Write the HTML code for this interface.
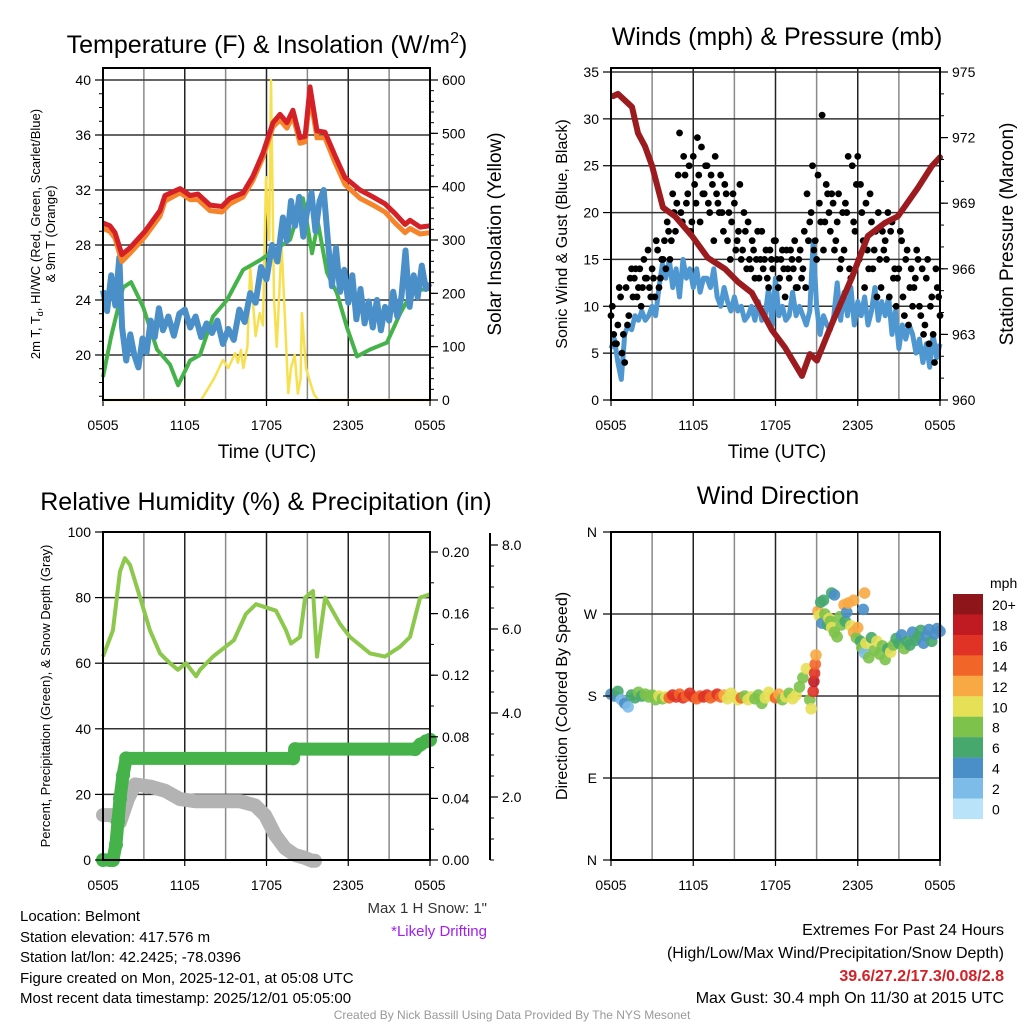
<!DOCTYPE html>
<html><head><meta charset="utf-8"><style>
body{margin:0;background:#fff}
svg{display:block;font-family:"Liberation Sans",sans-serif}
</style></head><body>
<svg id="s" width="1024" height="1024" viewBox="0 0 1024 1024" xmlns="http://www.w3.org/2000/svg">
<g id="g1"></g>
<g id="g2"></g>
<g id="g3"></g>
<g id="g4"></g>
<g id="gt">
<text x="267" y="53" font-size="25" text-anchor="middle">Temperature (F) &amp; Insolation (W/m<tspan dy="-10" font-size="16">2</tspan><tspan dy="10">)</tspan></text>
<text x="777" y="45" font-size="25" text-anchor="middle">Winds (mph) &amp; Pressure (mb)</text>
<text x="266" y="510" font-size="25" text-anchor="middle">Relative Humidity (%) &amp; Precipitation (in)</text>
<text x="778" y="504" font-size="25" text-anchor="middle">Wind Direction</text>
<text x="267" y="458" font-size="19" text-anchor="middle">Time (UTC)</text>
<text x="777" y="458" font-size="19" text-anchor="middle">Time (UTC)</text>
<text transform="translate(40,234) rotate(-90)" font-size="13" text-anchor="middle">2m T, T<tspan font-size="9" dy="3">d</tspan><tspan dy="-3">, HI/WC (Red, Green, Scarlet/Blue)</tspan></text>
<text transform="translate(55,234) rotate(-90)" font-size="13" text-anchor="middle">&amp; 9m T (Orange)</text>
<text transform="translate(501,234) rotate(-90)" font-size="19" text-anchor="middle">Solar Insolation (Yellow)</text>
<text transform="translate(567,234) rotate(-90)" font-size="16" text-anchor="middle">Sonic Wind &amp; Gust (Blue, Black)</text>
<text transform="translate(1013,234) rotate(-90)" font-size="19" text-anchor="middle">Station Pressure (Maroon)</text>
<text transform="translate(50,696) rotate(-90)" font-size="13" text-anchor="middle">Percent, Precipitation (Green), &amp; Snow Depth (Gray)</text>
<text transform="translate(567,696) rotate(-90)" font-size="16" text-anchor="middle">Direction (Colored By Speed)</text>
<text x="487" y="913" font-size="15" text-anchor="end" fill="#333">Max 1 H Snow: 1"</text>
<text x="487" y="936" font-size="15" text-anchor="end" fill="#a020f0">*Likely Drifting</text>
<g font-size="15">
<text x="20" y="921">Location: Belmont</text>
<text x="20" y="942">Station elevation: 417.576 m</text>
<text x="20" y="962">Station lat/lon: 42.2425; -78.0396</text>
<text x="20" y="983">Figure created on Mon, 2025-12-01, at 05:08 UTC</text>
<text x="20" y="1003">Most recent data timestamp: 2025/12/01 05:05:00</text>
</g>
<g font-size="16" text-anchor="end">
<text x="1004" y="935">Extremes For Past 24 Hours</text>
<text x="1004" y="958">(High/Low/Max Wind/Precipitation/Snow Depth)</text>
<text x="1004" y="981" fill="#d42027" font-weight="bold">39.6/27.2/17.3/0.08/2.8</text>
<text x="1004" y="1003">Max Gust: 30.4 mph On 11/30 at 2015 UTC</text>
</g>
<text x="512" y="1019" font-size="12" fill="#999" text-anchor="middle">Created By Nick Bassill Using Data Provided By The NYS Mesonet</text>
</g>
</svg>
<script>
// ---------- data ----------
const xTickLabels = ["0505","1105","1705","2305","0505"];
const tempH = [0,0.51,0.88,1.39,1.98,3.08,4.18,4.55,5.65,6.39,6.97,7.85,8.73,9.32,10.28,11.0,11.74,12.48,12.99,13.5,13.94,14.46,14.83,15.19,15.71,16.29,17.03,17.76,18.86,19.82,20.7,21.43,22.17,22.53,23.27,24];
const tempRed = [29.6,29.4,28.9,27.3,27.8,29.0,30.5,31.6,32.1,31.6,31.7,30.9,30.8,31.4,31.8,33,34.7,36.9,37.5,36.9,37.8,35.8,35.9,39.5,36.3,36.2,34.5,32.9,32.0,31.5,31.0,30.3,29.5,29.8,29.3,29.4];
const tempOrange = [29.2,29.0,28.5,26.8,27.4,28.6,30.1,31.2,31.8,31.3,31.3,30.5,30.4,31.0,31.5,32.7,34.4,36.6,37.1,36.5,37.4,35.4,35.5,38.9,35.8,35.8,34.0,32.4,31.4,30.9,30.4,29.6,28.9,29.2,28.8,28.9];
const hiH = [0,0.3,0.6,0.9,1.2,1.4,1.7,2.0,2.3,2.6,2.9,3.2,3.5,3.8,4.1,4.4,4.8,5.2,5.6,6.0,6.4,6.8,7.2,7.6,8.0,8.4,8.8,9.2,9.6,10.0,10.4,10.8,11.2,11.6,12.0,12.4,12.8,13.2,13.5,13.8,14.1,14.4,14.7,15.0,15.3,15.6,15.9,16.2,16.5,16.8,17.1,17.4,17.7,18.0,18.3,18.6,18.9,19.2,19.5,19.8,20.1,20.4,20.7,21.0,21.3,21.6,21.9,22.2,22.5,22.8,23.1,23.4,23.7,24];
const hiBlue = [24.7,23.2,25.8,23.6,27.1,22.0,19.6,21.5,20.0,19.1,21.2,20.2,22.5,21.3,23.4,21.8,22.8,21.4,23.0,23.3,22.0,22.8,21.3,22.3,21.6,22.5,20.8,21.9,21.1,23.3,22.4,24.5,23.8,26.4,25.5,28.0,26.8,30.0,28.3,31.2,29.4,31.5,28.6,30.6,31.8,29.0,31.2,32.0,28.4,25.0,27.8,24.6,26.2,23.8,25.8,22.6,24.8,22.3,23.9,22.0,24.0,21.8,23.5,22.5,24.6,22.8,24.2,27.6,23.5,25.8,24.2,26.5,24.8,25.2];
const dewH = [0,0.59,1.47,2.06,2.94,3.96,4.92,5.51,6.39,7.12,8.07,9.10,10.28,11.53,13.73,14.68,15.34,15.78,16.44,17.17,17.91,18.64,19.60,20.84,21.80,22.75,24];
const dewGreen = [18.4,21.3,24.9,25.3,23.5,20.4,19.3,17.8,19.6,20.0,22.8,24.0,26.2,26.9,28.4,31.4,27.4,29.6,26.0,24.5,22.0,19.9,20.4,20.9,23.0,24.7,24.8];
const solarH = [0,7.2,8.15,8.8,9.2,9.7,9.9,10.13,10.3,10.6,10.8,11.2,11.5,11.74,11.96,12.2,12.33,12.55,12.75,12.9,13.1,13.36,13.6,13.8,14.07,14.3,14.5,14.6,14.9,15.3,15.5,15.8,16.0,24];
const solarW = [0,0,40,75,60,88,70,94,60,100,250,120,163,140,418,300,600,190,100,180,294,150,13,60,85,12,40,163,60,25,10,0,0,0];
const windH = [];
const windBlue = [5.5,6.5,4,2.2, 7,8,7.5,9, 8.5,9.5,8.5,9, 10,9,12,14.5, 13,15,12,14, 11,15,13,14, 12,14,11.5,13, 13,12,14,11, 10,12,10.5,9.5, 11,9.5,10,8.5, 9,10,8.5,10.5, 8.5,9,12,8, 13,9,10,8.5, 9,11.5,9,10, 9,8,9.5,17, 10,7,9,8, 7.5,9,12.5,8.5, 11.5,9,12,8, 10.5,9,11,8, 9.5,12,8.5,10.5, 9,11,7,9.5, 5.5,8,6.5,8, 7,5,6.5,4, 6,3.5,7,4.5, 6];
const gustA = [9,7,6,12,5, 4,8,13,11,14, 12,10,15,13,12, 14,11,16,13,15, 14,18,17,20,21, 28.5,19,24,22,18, 26,21,24,27,22, 25,20,23,26,21, 24,18,22,20,19, 21,17,23,16,18, 19,14,16,15,13, 18,15,13,16,14, 17,12,15,14,16, 13,15,17,12,16, 14,12,17,20,16, 15,21,30.4,19,22, 18,21,17,22,15, 16,20,14,25,18, 26,23,17,21,14, 19,16,11,15,18, 17,20,18,13,10, 14,17,9,16,12, 10,13,15,9,7, 13,6,11,4,12, 9];
const gustB = [10,6,8,11,7, 12,9,14,13,11, 14,12,13,16,11, 13,17,12,15,17, 19,15,22,18,24, 20,26,21,25,19, 23,28,19,22,25, 21,24,17,22,20, 20,23,17,15,22, 16,18,15,20,14, 15,17,13,18,15, 14,16,12,15,17, 15,13,16,11,14, 16,14,12,15,13, 18,22,19,25,17, 24,19,16,23,20, 22,16,19,14,20, 21,26,13,19,23, 15,20,12,16,22, 14,18,20,12,16, 15,11,19,14,13, 18,11,15,8,14, 12,16,10,14,8, 15,10,7,14,11];
const presH = [0.15,0.51,1.53,1.97,2.48,3.0,3.79,4.67,5.91,7.07,8.31,9.26,10.28,11.74,12.69,13.93,14.51,15.02,16.12,17.57,18.74,19.98,20.93,22.39,23.41,24];
const pressure = [973.9,974.0,973.4,972.2,971.6,970.7,968.8,968.4,967.5,966.5,966.0,965.4,964.9,963.2,962.4,961.1,962.1,961.8,963.5,965.6,967.5,968.1,968.4,969.7,970.7,971.1];
const rhH = [0,0.73,1.25,1.61,1.98,2.72,3.45,4.18,4.92,5.5,6.09,6.83,7.12,8.07,9.61,10.49,11.23,12.7,13.43,13.8,14.46,14.83,15.41,15.71,16.3,17.39,18.13,19.6,20.7,21.8,22.53,23.27,24];
const rhVals = [62,70,88,92,90,80,70,63,60,58,60,56,58,62,67,75,78,76,70,66,68,80,82,62,80,72,68,63,62,65,68,80,81];
const precipH = [0,0.5,0.73,0.95,1.1,1.25,1.47,1.7,13.95,14.1,22.9,23.3,23.7,24];
const precipIn = [0,0,0,0.01,0.025,0.04,0.055,0.066,0.066,0.072,0.072,0.075,0.077,0.078];
const snowH = [0,0.66,1.25,1.83,2.35,3.45,4.55,5.65,6.75,10.05,11.16,11.89,12.63,13.36,14.09,14.83,15.34,15.56];
const snowDepth = [1.57,1.57,1.4,1.95,2.3,2.25,2.15,1.95,1.9,1.9,1.8,1.57,1.1,0.78,0.62,0.55,0.48,0.48];
const dirH = [0,0.25,0.5,0.75,1,1.25,1.5,1.75,2,2.25,2.5,2.75,3,3.25,3.5,3.75,4,4.25,4.5,4.75,5,5.25,5.5,5.75,6,6.25,6.5,6.75,7,7.25,7.5,7.75,8,8.25,8.5,8.75,9,9.25,9.5,9.75,10,10.25,10.5,10.75,11,11.25,11.5,11.75,12,12.25,12.5,12.75,13,13.25,13.5,13.75,14,14.25,14.5,14.6,14.75,14.8,14.85,14.9,14.95,15.1,15.2,15.3,15.4,15.5,15.6,15.8,15.9,16,16.1,16.3,16.5,16.7,16.8,17,17.1,17.2,17.3,17.5,17.7,17.9,18,18.2,18.3,18.5,18.6,18.8,19,19.2,19.4,19.6,19.8,20,20.2,20.4,20.6,20.8,21,21.2,21.4,21.6,21.8,22,22.2,22.4,22.6,22.8,23,23.2,23.4,23.6,23.8,24,16.1,16.3,17.7,18.5,18.4];
const dirDeg = [182,180,185,176,172,168,181,178,184,180,182,179,181,176,180,177,179,178,181,179,182,178,180,183,179,177,180,179,181,178,180,182,179,181,177,183,179,176,178,180,176,179,177,181,172,178,184,180,178,182,176,179,183,177,181,190,200,210,176,166,185,196,205,215,225,273,268,283,260,285,270,258,265,262,255,250,245,267,258,280,262,272,282,257,250,244,255,240,233,227,238,222,244,230,240,226,235,220,232,228,236,243,238,247,232,240,236,250,241,245,252,238,246,253,240,248,254,251,293,291,285,293,275];
const dirSpd = [4,3,5,2,4,2,6,6,7,6,8,7,8,7,9,8,10,14,15,16,13,15,14,16,15,14,13,15,16,13,14,15,14,12,10,10,10,10,13,8,9,10,8,8,7,10,10,9,13,12,8,10,8,9,10,8,8,10,8,10,16,18,16,14,12,12,10,6,4,6,7,6,10,8,10,8,7,7,8,12,6,4,12,10,12,8,12,6,8,2,10,8,6,8,10,8,7,8,6,10,8,6,6,4,8,6,6,4,6,6,5,4,4,4,6,4,4,4,6,4,12,12,4];
const cbLabels = ["20+","18","16","14","12","10","8","6","4","2","0"];
const cbColors = ["#8e1519","#c01b22","#e03326","#f26529","#f8a944","#e6e057","#7cc24b","#47a86e","#4a8fc8","#7dbce9","#b9e3f9"];
for (let i = 0; i < windBlue.length; i++) windH.push(i * 0.25);

// ---------- helpers ----------
const NS = "http://www.w3.org/2000/svg";
function mk(parent, tag, attrs) {
  const e = document.createElementNS(NS, tag);
  for (const k in attrs) e.setAttribute(k, attrs[k]);
  parent.appendChild(e);
  return e;
}
function lin(d0, d1, r0, r1) { return v => r0 + (v - d0) * (r1 - r0) / (d1 - d0); }
function pathOf(xs, ys, fx, fy) {
  return xs.map((h, i) => (i ? "L" : "M") + fx(h).toFixed(1) + "," + fy(ys[i]).toFixed(1)).join("");
}
function frame(g, x0, x1, y0, y1, hY, name) {
  for (let k = 1; k < 8; k++) {
    const x = x0 + k * (x1 - x0) / 8;
    const l = mk(g, "line", {x1: x, x2: x, y1: y0, y2: y1, stroke: k % 2 ? "#8a8a8a" : "#222", "stroke-width": 1.5});
    
    
  }
  hY.forEach(y => {
    const l = mk(g, "line", {x1: x0, x2: x1, y1: y, y2: y, stroke: "#333", "stroke-width": 1.5});
    
    
  });
  xTickLabels.forEach((t, i) => {
    const x = x0 + i * (x1 - x0) / 4;
    mk(g, "line", {x1: x, x2: x, y1: y1, y2: y1 + 6, stroke: "#000", "stroke-width": 1.2});
    const tx = mk(g, "text", {x: x, y: y1 + 30, "font-size": 14, "text-anchor": "middle"});
    tx.textContent = t;
    
    
  });
}
function border(g, x0, x1, y0, y1) {
  const r = mk(g, "rect", {x: x0, y: y0, width: x1 - x0, height: y1 - y0, fill: "none", stroke: "#000", "stroke-width": 2});
  
  
}
function yAxis(g, vals, fy, x, side, fmt, fs, minorStep, v0, v1) {
  if (minorStep) for (let v = v0; v <= v1 + 1e-9; v += minorStep) {
    const y = fy(v);
    mk(g, "line", {x1: x, x2: x + (side < 0 ? -4 : 4), y1: y, y2: y, stroke: "#000", "stroke-width": 1});
  }
  vals.forEach(v => {
    const y = fy(v);
    mk(g, "line", {x1: x, x2: x + (side < 0 ? -8 : 8), y1: y, y2: y, stroke: "#000", "stroke-width": 1.2});
    const t = mk(g, "text", {x: x + (side < 0 ? -12 : 12), y: y + 5, "font-size": fs || 14, "text-anchor": side < 0 ? "end" : "start"});
    t.textContent = fmt ? fmt(v) : v;
    
    
  });
}

// ---------- panel 1: temperature ----------
(function () {
  const g = document.getElementById("g1");
  const X0 = 103, X1 = 430, Y0 = 68, Y1 = 400;
  const fx = lin(0, 24, X0, X1);
  const fy = lin(20, 40, 355, 80);
  const fs = lin(0, 600, 400, 80);
  frame(g, X0, X1, Y0, Y1, [20, 24, 28, 32, 36, 40].map(fy));
  const so = mk(g, "path", {d: pathOf(solarH, solarW, fx, fs), fill: "none", stroke: "#f7e04f", "stroke-width": 2.5, "stroke-linejoin": "round"});
  
  
  const dg = mk(g, "path", {d: pathOf(dewH, dewGreen, fx, fy), fill: "none", stroke: "#45b34a", "stroke-width": 4, "stroke-linejoin": "round"});
  
  
  const hb = mk(g, "path", {d: pathOf(hiH, hiBlue, fx, fy), fill: "none", stroke: "#4a8fc8", "stroke-width": 6, "stroke-linejoin": "round"});
  
  
  const to = mk(g, "path", {d: pathOf(tempH, tempOrange, fx, fy), fill: "none", stroke: "#f5842a", "stroke-width": 5, "stroke-linejoin": "round"});
  
  
  const tr = mk(g, "path", {d: pathOf(tempH, tempRed, fx, fy), fill: "none", stroke: "#d42027", "stroke-width": 5, "stroke-linejoin": "round"});
  
  
  border(g, X0, X1, Y0, Y1);
  yAxis(g, [20, 24, 28, 32, 36, 40], fy, X0, -1, null, 14, 1, 17, 40);
  yAxis(g, [0, 100, 200, 300, 400, 500, 600], fs, X1, 1, null, 14, 20, 0, 600);
})();

// ---------- panel 2: winds ----------
(function () {
  const g = document.getElementById("g2");
  const X0 = 611, X1 = 940, Y0 = 68, Y1 = 400;
  const fx = lin(0, 24, X0, X1);
  const fy = lin(0, 35, 400, 72);
  const fp = lin(960, 975, 400, 72);
  frame(g, X0, X1, Y0, Y1, [5, 10, 15, 20, 25, 30, 35].map(fy));
  const wb = mk(g, "path", {d: pathOf(windH, windBlue, fx, fy), fill: "none", stroke: "#4f97d1", "stroke-width": 5, "stroke-linejoin": "round"});
  
  
  gustA.forEach((v, i) => {
    const c = mk(g, "circle", {cx: fx(i * 0.2), cy: fy(v), r: 3.4, fill: "#000"});
    
    
  });
  gustB.forEach((v, i) => {
    const c = mk(g, "circle", {cx: fx(i * 0.2 + 0.1), cy: fy(v), r: 3.4, fill: "#000"});
    
    
  });
  const pr = mk(g, "path", {d: pathOf(presH, pressure, fx, fp), fill: "none", stroke: "#9b1b1e", "stroke-width": 6, "stroke-linejoin": "round", "stroke-linecap": "round"});
  
  
  border(g, X0, X1, Y0, Y1);
  yAxis(g, [0, 5, 10, 15, 20, 25, 30, 35], fy, X0, -1, null, 14, 0, 0, 0);
  yAxis(g, [960, 963, 966, 969, 972, 975], fp, X1, 1, null, 14, 1, 960, 975);
})();

// ---------- panel 3: humidity ----------
(function () {
  const g = document.getElementById("g3");
  const X0 = 103, X1 = 430, Y0 = 532, Y1 = 860;
  const fx = lin(0, 24, X0, X1);
  const fy = lin(0, 100, 860, 532);
  const fpr = lin(0, 0.2, 860, 552);
  const fsn = lin(0, 8, 881, 545);
  frame(g, X0, X1, Y0, Y1, [20, 40, 60, 80].map(fy));
  const sn = mk(g, "path", {d: pathOf(snowH, snowDepth, fx, fsn), fill: "none", stroke: "#b3b3b3", "stroke-width": 14, "stroke-linejoin": "round", "stroke-linecap": "round"});
  
  
  const pr = mk(g, "path", {d: pathOf(precipH, precipIn, fx, fpr), fill: "none", stroke: "#45b34a", "stroke-width": 13, "stroke-linejoin": "round", "stroke-linecap": "round"});
  
  
  precipH.forEach((h, i) => {
    const c = mk(g, "circle", {cx: fx(h), cy: fpr(precipIn[i]), r: 7, fill: "#45b34a"});
    
    
  });
  const rh = mk(g, "path", {d: pathOf(rhH, rhVals, fx, fy), fill: "none", stroke: "#8cc84b", "stroke-width": 4, "stroke-linejoin": "round"});
  
  
  border(g, X0, X1, Y0, Y1);
  yAxis(g, [0, 20, 40, 60, 80, 100], fy, X0, -1, null, 14, 0, 0, 0);
  yAxis(g, [0, 0.04, 0.08, 0.12, 0.16, 0.2], fpr, X1, 1, v => v.toFixed(2), 14, 0.02, 0, 0.2);
  const ax = mk(g, "line", {x1: 490, x2: 490, y1: 533, y2: 860, stroke: "#000", "stroke-width": 2});
  
  
  yAxis(g, [2, 4, 6, 8], fsn, 490, 1, v => v.toFixed(1), 14, 0.5, 0.5, 8);
})();

// ---------- panel 4: wind direction ----------
(function () {
  const g = document.getElementById("g4");
  const X0 = 611, X1 = 940, Y0 = 532, Y1 = 860;
  const fx = lin(0, 24, X0, X1);
  const fy = lin(0, 360, 860, 532);
  frame(g, X0, X1, Y0, Y1, [90, 180, 270].map(fy));
  const color = s => cbColors[Math.max(0, 10 - Math.min(10, Math.round(s / 2)))];
  dirH.forEach((h, i) => {
    const c = mk(g, "circle", {cx: fx(h), cy: fy(dirDeg[i]), r: 5.8, fill: color(dirSpd[i]), "fill-opacity": 0.9});
    
    
  });
  border(g, X0, X1, Y0, Y1);
  ["N", "E", "S", "W", "N"].forEach((t, i) => {
    const y = fy(i * 90);
    mk(g, "line", {x1: X0, x2: X0 - 8, y1: y, y2: y, stroke: "#000", "stroke-width": 1.2});
    const tx = mk(g, "text", {x: X0 - 14, y: y + 5, "font-size": 14, "text-anchor": "end"});
    tx.textContent = t;
    
    
  });
  const cb = mk(g, "g", {});
  
  
  const u = mk(cb, "text", {x: 990, y: 588, "font-size": 14});
  u.textContent = "mph";
  cbLabels.forEach((t, i) => {
    const y = 594 + i * 20.45;
    const r = mk(cb, "rect", {x: 953, y: y, width: 30, height: 20.6, fill: cbColors[i]});
    
    
    const tx = mk(cb, "text", {x: 992, y: y + 16, "font-size": 14});
    tx.textContent = t;
    
    
  });
})();
</script>
</body></html>
